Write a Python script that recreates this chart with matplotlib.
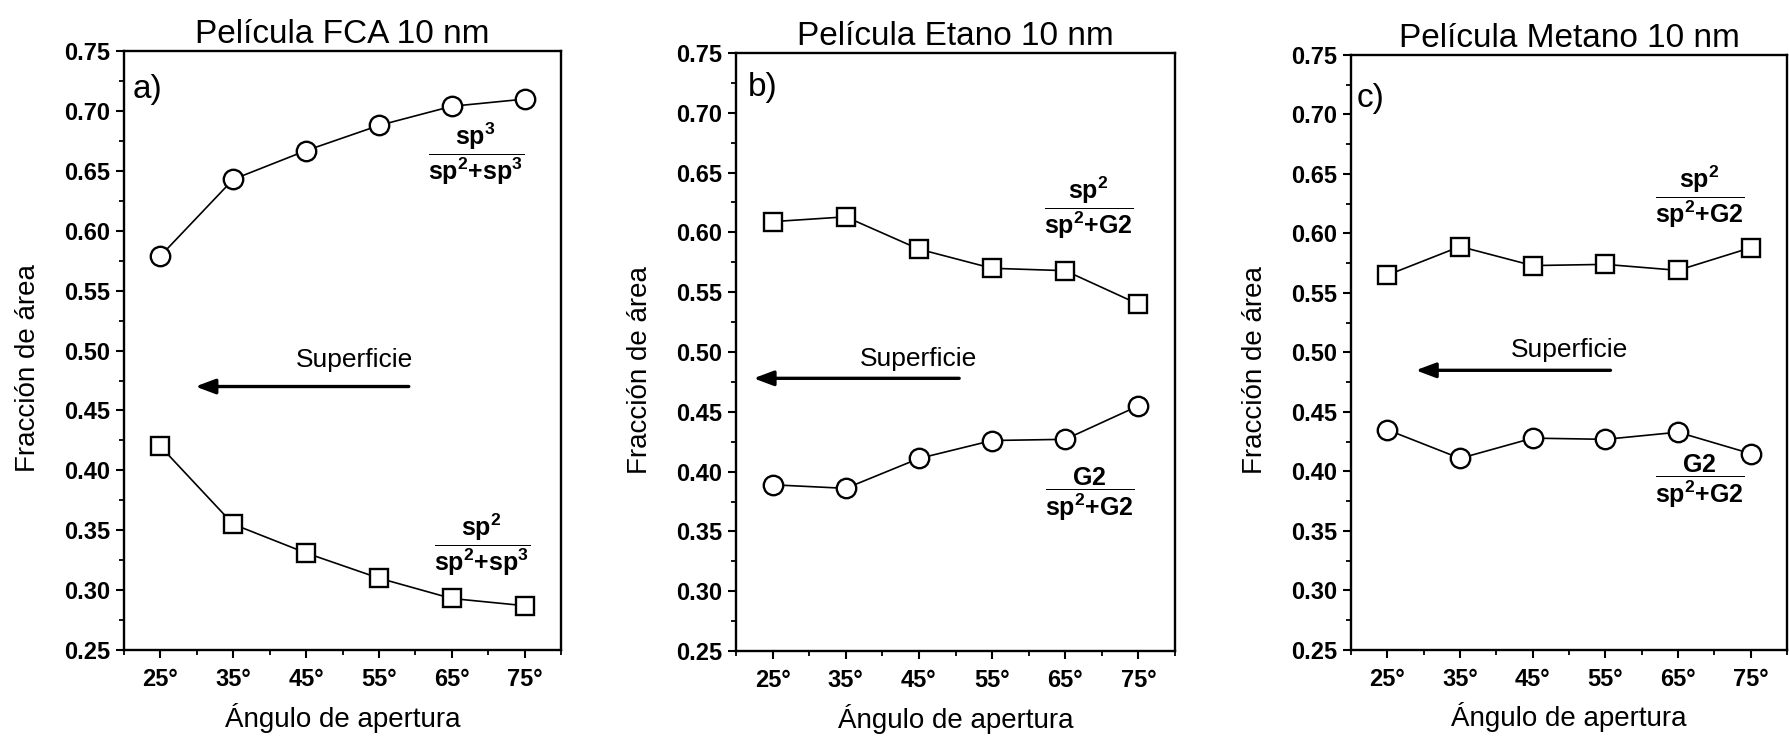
import matplotlib.pyplot as plt
from matplotlib.ticker import MultipleLocator, FixedLocator

plt.rcParams['font.family'] = ['Liberation Sans', 'DejaVu Sans']
plt.rcParams['mathtext.fontset'] = 'custom'
plt.rcParams['mathtext.rm'] = 'Liberation Sans'
plt.rcParams['mathtext.bf'] = 'Liberation Sans:bold'
plt.rcParams['mathtext.it'] = 'Liberation Sans:italic'

angles = [25, 35, 45, 55, 65, 75]
angle_labels = ['25°', '35°', '45°', '55°', '65°', '75°']

# Película FCA: fracción sp3 y sp2
fca_sp3 = [0.579, 0.643, 0.667, 0.688, 0.704, 0.710]
fca_sp2 = [0.420, 0.355, 0.331, 0.310, 0.293, 0.287]

# Película Etano: sp2 y G2
etano_sp2 = [0.609, 0.613, 0.586, 0.570, 0.568, 0.540]
etano_g2 = [0.389, 0.386, 0.411, 0.426, 0.427, 0.455]

# Película Metano: sp2 y G2
metano_sp2 = [0.565, 0.589, 0.573, 0.574, 0.569, 0.588]
metano_g2 = [0.435, 0.411, 0.428, 0.427, 0.433, 0.415]

frac_sp3 = r'$\dfrac{\mathbf{sp^3}}{\mathbf{sp^2{+}sp^3}}$'
frac_sp2_a = r'$\dfrac{\mathbf{sp^2}}{\mathbf{sp^2{+}sp^3}}$'
frac_sp2 = r'$\dfrac{\mathbf{sp^2}}{\mathbf{sp^2{+}G2}}$'
frac_g2 = r'$\dfrac{\mathbf{G2}}{\mathbf{sp^2{+}G2}}$'

panels = [
    dict(rect=[0.0693, 0.124, 0.2443, 0.807], title='Película FCA 10 nm', tag='a)',
         tag_pos=(21.2, 0.718),
         squares=fca_sp2, circles=fca_sp3,
         labels=[(frac_sp3, 68.3, 0.664), (frac_sp2_a, 69.2, 0.338)],
         arrow=(59.1, 29.8, 0.470), sup_pos=(51.6, 0.492)),
    dict(rect=[0.4114, 0.1226, 0.2454, 0.806], title='Película Etano 10 nm', tag='b)',
         tag_pos=(21.6, 0.721),
         squares=etano_sp2, circles=etano_g2,
         labels=[(frac_sp2, 68.2, 0.621), (frac_g2, 68.3, 0.381)],
         arrow=(50.5, 22.4, 0.478), sup_pos=(45.0, 0.494)),
    dict(rect=[0.7552, 0.124, 0.2437, 0.802], title='Película Metano 10 nm', tag='c)',
         tag_pos=(20.8, 0.713),
         squares=metano_sp2, circles=metano_g2,
         labels=[(frac_sp2, 68.0, 0.631), (frac_g2, 68.0, 0.392)],
         arrow=(55.7, 28.9, 0.485), sup_pos=(50.0, 0.502)),
]

fig = plt.figure(figsize=(17.89, 7.42), dpi=100)

for p in panels:
    ax = fig.add_axes(p['rect'])

    ax.plot(angles, p['squares'], color='black', lw=1.2, marker='s', ms=12.5,
            mfc='white', mec='black', mew=1.7, zorder=3)
    ax.plot(angles, p['circles'], color='black', lw=1.2, marker='o', ms=14,
            mfc='white', mec='black', mew=1.7, zorder=3)

    ax.set_xlim(20, 80)
    ax.set_ylim(0.25, 0.75)
    ax.xaxis.set_major_locator(FixedLocator(angles))
    ax.set_xticklabels(angle_labels)
    ax.xaxis.set_minor_locator(MultipleLocator(10))
    ax.yaxis.set_major_locator(MultipleLocator(0.05))
    ax.yaxis.set_minor_locator(MultipleLocator(0.025))
    ax.yaxis.set_major_formatter(plt.FormatStrFormatter('%.2f'))

    for s in ax.spines.values():
        s.set_linewidth(1.7)
    ax.tick_params(which='major', direction='out', length=6, width=1.5,
                   labelsize=17, top=False, right=False)
    ax.tick_params(which='minor', direction='out', length=3.5, width=1.3,
                   top=False, right=False)
    ax.tick_params(axis='x', which='major', pad=7)
    ax.tick_params(axis='y', which='major', pad=4)
    for lab in ax.get_xticklabels() + ax.get_yticklabels():
        lab.set_fontweight('bold')

    ax.set_title(p['title'], fontsize=24, pad=6)
    ax.set_xlabel('Ángulo de apertura', fontsize=20)
    ax.xaxis.set_label_coords(0.5, -0.088)
    ax.set_ylabel('Fracción de área', fontsize=20)
    ax.yaxis.set_label_coords(-0.19, 0.47)

    ax.text(p['tag_pos'][0], p['tag_pos'][1], p['tag'], fontsize=24,
            ha='left', va='center')

    for txt, x, y in p['labels']:
        ax.text(x, y, txt, fontsize=18, ha='center', va='center')

    x0, x1, ya = p['arrow']
    ax.annotate('', xy=(x1, ya), xytext=(x0, ya),
                arrowprops=dict(arrowstyle='-|>,head_length=0.8,head_width=0.3',
                                lw=2.4, color='black', mutation_scale=15,
                                shrinkA=0, shrinkB=0))
    ax.text(p['sup_pos'][0], p['sup_pos'][1], 'Superficie', fontsize=19,
            ha='center', va='center')

fig.savefig('out.png', dpi=100)
